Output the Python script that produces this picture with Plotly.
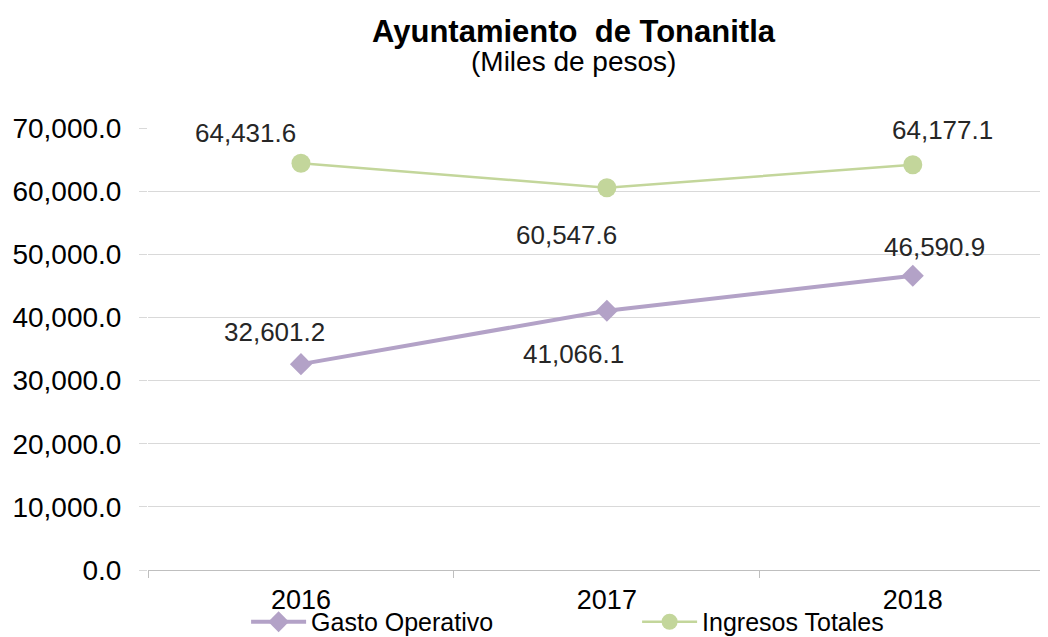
import plotly.graph_objects as go

years = ["2016", "2017", "2018"]
gasto_operativo = [32601.2, 41066.1, 46590.9]
ingresos_totales = [64431.6, 60547.6, 64177.1]

# label offsets (px) for data labels
gasto_shift = [(-26, 32), (-33, -43), (22, 29)]
ingresos_shift = [(-55, 30), (-40, -47), (30, 35)]

PURPLE = "#B3A2C7"
GREEN = "#C3D69B"
FONT = "Liberation Sans, Arial, sans-serif"

fig = go.Figure()
fig.add_trace(go.Scatter(
    x=years, y=gasto_operativo, name="Gasto Operativo", mode="lines+markers",
    line=dict(color=PURPLE, width=4),
    marker=dict(symbol="diamond", size=17, color=PURPLE),
))
fig.add_trace(go.Scatter(
    x=years, y=ingresos_totales, name="Ingresos Totales", mode="lines+markers",
    line=dict(color=GREEN, width=2.5),
    marker=dict(symbol="circle", size=19, color=GREEN),
))

annotations = []
for vals, shifts in ((gasto_operativo, gasto_shift), (ingresos_totales, ingresos_shift)):
    for i, (v, (dx, dy)) in enumerate(zip(vals, shifts)):
        annotations.append(dict(
            x=i, y=v, xref="x", yref="y", text=f"{v:,.1f}", showarrow=False,
            xshift=dx, yshift=dy, font=dict(family=FONT, size=26, color="#262626"),
        ))

annotations.append(dict(
    x=0.473, y=1.0, xref="paper", yref="paper", yanchor="middle", yshift=97,
    showarrow=False, text="<b>Ayuntamiento&nbsp; de Tonanitla</b>",
    font=dict(family=FONT, size=31, color="#000000"),
))
annotations.append(dict(
    x=0.473, y=1.0, xref="paper", yref="paper", yanchor="middle", yshift=67,
    showarrow=False, text="(Miles de pesos)",
    font=dict(family=FONT, size=28, color="#000000"),
))

fig.update_layout(
    width=1040, height=629,
    margin=dict(l=140, r=0, t=120, b=67, autoexpand=False),
    paper_bgcolor="white", plot_bgcolor="white",
    font=dict(family=FONT, color="#000000"),
    showlegend=True,
    legend=dict(
        orientation="h", x=0.109, xanchor="left", y=-0.1176, yanchor="middle",
        font=dict(family=FONT, size=25, color="#000000"),
        itemwidth=55,
        entrywidth=321, entrywidthmode="pixels", bgcolor="rgba(0,0,0,0)",
        itemclick=False,
    ),
    annotations=annotations,
    xaxis=dict(
        type="category", range=[-0.5, 2.442], showgrid=False,
        showline=True, linecolor="#bfbfbf", linewidth=1,
        ticks="outside", tickson="boundaries", ticklen=7, tickcolor="#bfbfbf",
        ticklabelstandoff=6,
        tickfont=dict(family=FONT, size=27, color="#000000"),
        fixedrange=True,
    ),
    yaxis=dict(
        range=[0, 70000], dtick=10000, tickformat=",.1f",
        showgrid=True, gridcolor="#d9d9d9", gridwidth=1,
        showline=False, zeroline=False,
        ticks="outside", ticklen=8, tickcolor="#d9d9d9",
        ticklabelstandoff=12,
        tickfont=dict(family=FONT, size=28, color="#000000"),
        fixedrange=True,
    ),
)

fig.write_html("out.html")
